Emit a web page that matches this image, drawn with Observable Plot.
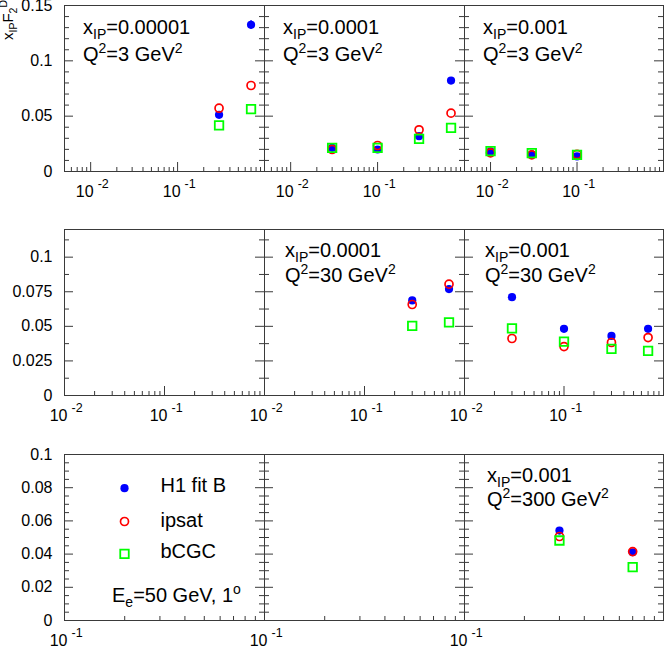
<!DOCTYPE html>
<html><head><meta charset="utf-8">
<script src="https://cdn.jsdelivr.net/npm/d3@7"></script>
<script src="https://cdn.jsdelivr.net/npm/@observablehq/plot@0.6"></script>
<style>
body{margin:0;background:#fff;}
#chart{position:relative;width:664px;height:646px;overflow:hidden;}
#chart > div.panel{position:absolute;}
</style></head><body><div id="chart"></div>
<script>
// ---------------- data ----------------
// panel (row 1, col 1): x_IP = 0.00001, Q^2 = 3 GeV^2
const beta11 = [0.3, 0.7];
const h1_11 = [0.0512, 0.1325];
const h1err_11 = [0.0010, 0.0040];
const ipsat_11 = [0.0572, 0.0777];
const bcgc_11 = [0.0416, 0.0563];
// panel (row 1, col 2): x_IP = 0.0001, Q^2 = 3 GeV^2
const beta12 = [0.03, 0.1, 0.3, 0.7];
const h1_12 = [0.0214, 0.0199, 0.0319, 0.0822];
const h1err_12 = [0.0006, 0.0006, 0.0010, 0.0025];
const ipsat_12 = [0.0199, 0.0235, 0.0377, 0.0527];
const bcgc_12 = [0.0214, 0.0214, 0.0295, 0.0395];
// panel (row 1, col 3): x_IP = 0.001, Q^2 = 3 GeV^2
const beta13 = [0.01, 0.03, 0.1];
const h1_13 = [0.0181, 0.0154, 0.0136];
const h1err_13 = [0.0005, 0.0005, 0.0005];
const ipsat_13 = [0.0169, 0.0150, 0.0154];
const bcgc_13 = [0.0184, 0.0166, 0.0150];
// panel (row 2, col 2): x_IP = 0.0001, Q^2 = 30 GeV^2
const beta22 = [0.3, 0.7];
const h1_22 = [0.0687, 0.0769];
const h1err_22 = [0.0015, 0.0025];
const ipsat_22 = [0.0658, 0.0805];
const bcgc_22 = [0.0504, 0.0528];
// panel (row 2, col 3): x_IP = 0.001, Q^2 = 30 GeV^2
const beta23 = [0.03, 0.1, 0.3, 0.7];
const h1_23 = [0.0711, 0.0482, 0.0431, 0.0482];
const h1err_23 = [0.0012, 0.0008, 0.0008, 0.0010];
const ipsat_23 = [0.0412, 0.0354, 0.0383, 0.0419];
const bcgc_23 = [0.0485, 0.0390, 0.0337, 0.0323];
// panel (row 3, col 3): x_IP = 0.001, Q^2 = 300 GeV^2
const beta33 = [0.3, 0.7];
const h1_33 = [0.0542, 0.0411];
const h1err_33 = [0.0015, 0.0012];
const ipsat_33 = [0.0506, 0.0415];
const bcgc_33 = [0.0482, 0.0321];

// panel labels
const xipLabels = ["0.00001", "0.0001", "0.001", "0.0001", "0.001", "0.001"];
const q2Labels = ["3", "3", "3", "30", "30", "300"];
const legendLabels = ["H1 fit B", "ipsat", "bCGC"];
const beamLabel = "=50 GeV, 1";

// tick positions and labels, per row
const xMajorRow1 = [0.01, 0.1, 1];
const xMinorRow1 = [0.005,0.006,0.007,0.008,0.009,0.02,0.03,0.04,0.05,0.06,0.07,0.08,0.09,0.2,0.3,0.4,0.5,0.6,0.7,0.8,0.9];
const xLabRow1 = [0.01, 0.1];
const xExpRow1 = ["-2", "-1"];
const xMajorRow2 = [0.01, 0.1, 1];
const xMinorRow2 = [0.02,0.03,0.04,0.05,0.06,0.07,0.08,0.09,0.2,0.3,0.4,0.5,0.6,0.7,0.8,0.9];
const xLabRow2 = [0.01, 0.1];
const xExpRow2 = ["-2", "-1"];
const xMajorRow3 = [0.1, 1];
const xMinorRow3 = [0.2,0.3,0.4,0.5,0.6,0.7,0.8,0.9];
const xLabRow3 = [0.1];
const xExpRow3 = ["-1"];

const yMajorRow1 = [0, 0.05, 0.1, 0.15];
const yLabRow1 = ["0", "0.05", "0.1", "0.15"];
const yMinorRow1 = [0.01,0.02,0.03,0.04,0.06,0.07,0.08,0.09,0.11,0.12,0.13,0.14];
const yMajorRow2 = [0, 0.025, 0.05, 0.075, 0.1];
const yLabRow2 = ["0", "0.025", "0.05", "0.075", "0.1"];
const yMinorRow2 = [0.0125, 0.0375, 0.0625, 0.0875, 0.1125];
const yMajorRow3 = [0, 0.02, 0.04, 0.06, 0.08, 0.1];
const yLabRow3 = ["0", "0.02", "0.04", "0.06", "0.08", "0.1"];
const yMinorRow3 = [0.005,0.01,0.015,0.025,0.03,0.035,0.045,0.05,0.055,0.065,0.07,0.075,0.085,0.09,0.095];

// ---------------- layout ----------------
const FONT = '"Liberation Sans", Arial, Helvetica, sans-serif';
const LINE = "#3a3a3a";
const BLUE = "#0000ff", RED = "#ff0000", GREEN = "#00ff00";
const colLeft = [64, 264, 464];
const colWidth = [200, 200, 199];
const rowTop = [5, 229, 454];
const PH = 166;
const textDx = [19, 21, 23];
const textDy = [[29, 56], [28, 53], [28, 52]];

const rows = [
  {xDomain: [0.005, 1], yDomain: [0, 0.15], xMajor: xMajorRow1, xMinor: xMinorRow1, xLab: xLabRow1, xExp: xExpRow1, yMajor: yMajorRow1, yMinor: yMinorRow1, yLab: yLabRow1},
  {xDomain: [0.01, 1], yDomain: [0, 0.12], xMajor: xMajorRow2, xMinor: xMinorRow2, xLab: xLabRow2, xExp: xExpRow2, yMajor: yMajorRow2, yMinor: yMinorRow2, yLab: yLabRow2},
  {xDomain: [0.1, 1], yDomain: [0, 0.1], xMajor: xMajorRow3, xMinor: xMinorRow3, xLab: xLabRow3, xExp: xExpRow3, yMajor: yMajorRow3, yMinor: yMinorRow3, yLab: yLabRow3}
];

function table(beta, h1, err, ipsat, bcgc) {
  return beta.map((b, i) => ({beta: b, h1: h1[i], err: err[i], ipsat: ipsat[i], bcgc: bcgc[i]}));
}

const panels = [
  {row: 0, col: 0, data: table(beta11, h1_11, h1err_11, ipsat_11, bcgc_11), lab: 0},
  {row: 0, col: 1, data: table(beta12, h1_12, h1err_12, ipsat_12, bcgc_12), lab: 1},
  {row: 0, col: 2, data: table(beta13, h1_13, h1err_13, ipsat_13, bcgc_13), lab: 2},
  {row: 1, col: 0, data: [], lab: null},
  {row: 1, col: 1, data: table(beta22, h1_22, h1err_22, ipsat_22, bcgc_22), lab: 3},
  {row: 1, col: 2, data: table(beta23, h1_23, h1err_23, ipsat_23, bcgc_23), lab: 4},
  {row: 2, col: 0, data: [], lab: null, legend: true},
  {row: 2, col: 1, data: [], lab: null},
  {row: 2, col: 2, data: table(beta33, h1_33, h1err_33, ipsat_33, bcgc_33), lab: 5}
];

// rich text (sub/superscripts) as a render-function mark
function rich(x, y, parts, {size = 20, anchor = "start", rotate = 0} = {}) {
  return () => {
    const t = d3.create("svg:text")
      .attr("transform", `translate(${x},${y})` + (rotate ? ` rotate(${rotate})` : ""))
      .attr("font-size", size).attr("text-anchor", anchor).attr("fill", "black")
      .attr("font-family", FONT);
    let shift = 0;
    for (const p of parts) {
      const [str, kind] = typeof p === "string" ? [p, null] : p;
      const target = kind === "sub" ? size * 0.27 : kind === "sup" ? -size * 0.38 : 0;
      const span = t.append("tspan").text(str).attr("dy", target - shift);
      if (kind) span.attr("font-size", size * 0.7);
      shift = target;
    }
    return t.node();
  };
}

const chart = document.getElementById("chart");

for (const p of panels) {
  const R = rows[p.row];
  const W = colWidth[p.col];
  const mL = p.col === 0 ? 64 : 30;
  const mR = p.col === 2 ? 1 : 10;
  const mT = p.row === 0 ? 5 : 10;
  const mB = 26;
  const marks = [];

  // x ticks (inward, from the bottom)
  marks.push(Plot.ruleX(R.xMinor, {x: d => d, insetTop: PH - 4, stroke: LINE}));
  marks.push(Plot.ruleX(R.xMajor, {x: d => d, insetTop: PH - 9, stroke: LINE}));
  // y ticks left and right (inward)
  marks.push(Plot.ruleY(R.yMinor, {y: d => d, insetRight: W - 5, stroke: LINE}));
  marks.push(Plot.ruleY(R.yMajor, {y: d => d, insetRight: W - 9, stroke: LINE}));
  marks.push(Plot.ruleY(R.yMinor, {y: d => d, insetLeft: W - 5, stroke: LINE}));
  marks.push(Plot.ruleY(R.yMajor, {y: d => d, insetLeft: W - 9, stroke: LINE}));
  marks.push(Plot.frame({stroke: LINE}));

  // x tick labels: 10 with exponent
  marks.push(Plot.text(R.xLab, {x: d => d, text: () => "10", frameAnchor: "bottom", lineAnchor: "top", textAnchor: "end", dx: 3, dy: 25.7 - 0.71 * 16, fontSize: 16, fill: "black"}));
  marks.push(Plot.text(R.xLab, {x: d => d, text: (d, i) => R.xExp[i], frameAnchor: "bottom", lineAnchor: "top", textAnchor: "start", dx: 7, dy: 16 - 0.71 * 12.5, fontSize: 12.5, fill: "black"}));

  // y tick labels on the first column
  if (p.col === 0) {
    marks.push(Plot.text(R.yMajor, {y: d => d, text: (d, i) => R.yLab[i], frameAnchor: "left", textAnchor: "end", dx: -12, fontSize: 16, fill: "black"}));
  }

  // data
  if (p.data.length) {
    marks.push(Plot.ruleX(p.data, {x: "beta", y1: d => d.h1 - d.err, y2: d => d.h1 + d.err, stroke: BLUE, strokeWidth: 1.2}));
    marks.push(Plot.dot(p.data, {x: "beta", y: "h1", r: 4.1, fill: BLUE, stroke: "none"}));
    marks.push(Plot.dot(p.data, {x: "beta", y: "ipsat", r: 4, fill: "none", stroke: RED, strokeWidth: 1.7}));
    marks.push(Plot.dot(p.data, {x: "beta", y: "bcgc", symbol: "square", r: 4.8, fill: "none", stroke: GREEN, strokeWidth: 1.8}));
  }

  // panel annotation
  if (p.lab !== null) {
    const dx = textDx[p.row], [d1, d2] = textDy[p.row];
    marks.push(rich(mL + dx, mT + d1, ["x", ["IP", "sub"], "=" + xipLabels[p.lab]]));
    marks.push(rich(mL + dx, mT + d2, ["Q", ["2", "sup"], "=" + q2Labels[p.lab] + " GeV", ["2", "sup"]]));
  }

  // y axis title
  if (p.row === 0 && p.col === 0) {
    marks.push(rich(13, 40, ["x", ["IP", "sub"], "F", ["2", "sub"], ["D", "sup"]], {size: 15, rotate: -90}));
  }

  // legend panel
  if (p.legend) {
    const lx = 60, ly = [33.7, 67, 99.3], ty = [37, 72.7, 103.5];
    marks.push(Plot.dot([legendLabels[0]], {frameAnchor: "top-left", dx: lx, dy: ly[0], r: 4.1, fill: BLUE, stroke: "none"}));
    marks.push(Plot.dot([legendLabels[1]], {frameAnchor: "top-left", dx: lx, dy: ly[1], r: 4, fill: "none", stroke: RED, strokeWidth: 1.7}));
    marks.push(Plot.dot([legendLabels[2]], {frameAnchor: "top-left", dx: lx, dy: ly[2], symbol: "square", r: 4.8, fill: "none", stroke: GREEN, strokeWidth: 1.8}));
    legendLabels.forEach((lab, i) => {
      marks.push(Plot.text([lab], {frameAnchor: "top-left", text: d => d, dx: 96, dy: ty[i] - 0.71 * 20, lineAnchor: "top", textAnchor: "start", fontSize: 20, fill: "black"}));
    });
    marks.push(rich(mL + 48, mT + 147.7, ["E", ["e", "sub"], beamLabel, ["o", "sup"]]));
  }

  const svg = Plot.plot({
    width: mL + W + mR,
    height: mT + PH + mB,
    marginLeft: mL, marginRight: mR, marginTop: mT, marginBottom: mB,
    x: {type: "log", domain: R.xDomain, axis: null},
    y: {domain: R.yDomain, axis: null},
    style: {fontFamily: FONT, fontSize: "16px", overflow: "visible", background: "transparent", color: "black"},
    marks
  });
  const div = document.createElement("div");
  div.className = "panel";
  div.style.left = (colLeft[p.col] - mL) + "px";
  div.style.top = (rowTop[p.row] - mT) + "px";
  div.appendChild(svg);
  chart.appendChild(div);
}
</script></body></html>
